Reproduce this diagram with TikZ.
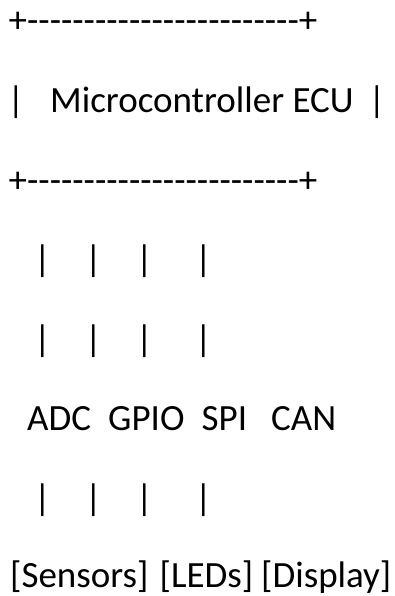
\documentclass[tikz,border=0pt]{standalone}
\usepackage{fontspec}
\setmainfont{Carlito}[Ligatures=TeXOff]
\begin{document}
\begin{tikzpicture}[x=1pt,y=-1pt,
  txt/.style={anchor=base west, inner sep=0pt, font=\fontsize{37}{40}\selectfont},
  bar/.style={anchor=base, inner sep=0pt, font=\fontsize{37}{40}\selectfont}]
\useasboundingbox[fill=white] (0,0) rectangle (395,596);
% row 1
\node[txt] (top) at (8.5,33) {+------------------------+};
% row 2
\node[bar] (lbar) at (16,112.5) {|};
\node[txt] (ecu) at (50,112.5) {Microcontroller ECU};
\node[bar] (rbar) at (377,112.5) {|};
% row 3
\node[txt] (bot) at (8.5,192) {+------------------------+};
% rows 4, 5, 7
\foreach \r/\y in {a/271.5,b/351,c/510}{
  \node[bar] (p1\r) at (42.5,\y) {|};
  \node[bar] (p2\r) at (93.5,\y) {|};
  \node[bar] (p3\r) at (144.5,\y) {|};
  \node[bar] (p4\r) at (203.5,\y) {|};
}
% row 6
\node[txt] (adc) at (27,430.5) {ADC};
\node[txt] (gpio) at (108,430.5) {GPIO};
\node[txt] (spi) at (201.5,430.5) {SPI};
\node[txt] (can) at (271,430.5) {CAN};
% row 8
\node[txt] (sens) at (10,587.5) {[Sensors]};
\node[txt] (leds) at (159.5,587.5) {[LEDs]};
\node[txt] (disp) at (261,587.5) {[Display]};
\end{tikzpicture}
\end{document}
